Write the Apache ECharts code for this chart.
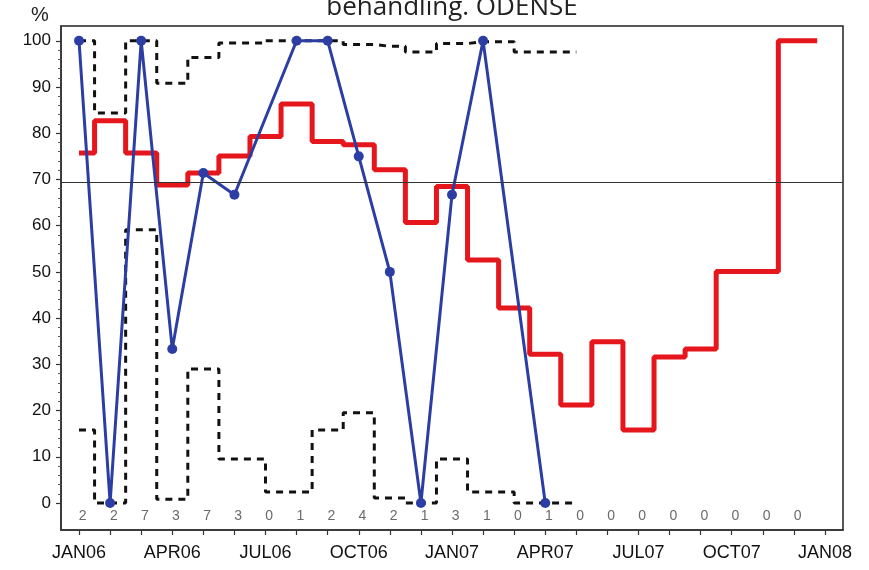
<!DOCTYPE html>
<html>
<head>
<meta charset="utf-8">
<script src="https://cdn.jsdelivr.net/npm/echarts/dist/echarts.min.js"></script>
<style>html,body{margin:0;background:#fff;}</style>
</head>
<body>
<div id="container" style="width:869px;height:570px;"></div>
<script type="text/javascript">
// months counted from JAN06 = 0
var quarterLabels = ['JAN06', 'APR06', 'JUL06', 'OCT06', 'JAN07', 'APR07', 'JUL07', 'OCT07', 'JAN08'];
var counts = [2, 2, 7, 3, 7, 3, 0, 1, 2, 4, 2, 1, 3, 1, 0, 1, 0, 0, 0, 0, 0, 0, 0, 0];
var observed = [100, 0, 100, 33.3, 71.4, 66.7, null, 100, 100, 75, 50, 0, 66.7, 100, null, 0];
var upper = [100, 84.4, 100, 90.8, 96.4, 99.5, null, 100, 100, 99.2, 98.8, 97.6, 99.4, 99.8, null, 97.6, 97.6];
var lower = [15.8, 0, 59.1, 0.8, 29, 9.5, null, 2.4, 15.8, 19.5, 1.1, 0, 9.5, 2.4, null, 0, 0];
var running = [75.7, 82.7, 75.7, 68.8, 71.4, 75.1, 79.3, 86.3, 78.2, 77.5, 72.1, 60.7,
	68.5, 52.6, 42.2, 32.2, 21.2, 34.9, 15.8, 31.6, 33.3, 50.1, 50.1, 100];
var runningEnd = 23.75;
var target = 69.3;

var dom = document.getElementById('container');
var chart = echarts.init(dom);

// frame geometry (px) and data ranges of the frame
var W = 869, H = 570;
var gl = 61, gr = 26, gt = 26, gb = 40;
var xMin = -0.58, xMax = 24.58, yMin = -5.84, yMax = 103.2;
var pw = W - gl - gr, ph = H - gt - gb;
var bl = gl + (0 - xMin) / (xMax - xMin) * pw;
var br = gr + (xMax - 24) / (xMax - xMin) * pw;
var bt = gt + (yMax - 100) / (yMax - yMin) * ph;
var bb = gb + (0 - yMin) / (yMax - yMin) * ph;

function pairs(arr) {
	return arr.map(function (v, i) { return [i, v]; }).filter(function (p) { return p[1] != null; });
}

var runData = pairs(running);
runData.push([runningEnd, running[running.length - 1]]);

var font = '"Liberation Sans", Arial, sans-serif';

option = {
	animation: false,
	backgroundColor: '#fff',
	graphic: [
		{ type: 'text', x: 452, y: 8, style: { text: 'behandling. ODENSE', font: '26px "Open Sans", sans-serif', fill: '#222', textAlign: 'center', textVerticalAlign: 'middle' } },
		{ type: 'text', x: 40, y: 15, style: { text: '%', font: '20px ' + font, fill: '#222', textAlign: 'center', textVerticalAlign: 'middle' } }
	],
	grid: [
		{ left: gl, right: gr, top: gt, bottom: gb, show: true, borderColor: '#222', borderWidth: 1.5 },
		{ left: bl, right: br, top: bt, bottom: bb, show: false }
	],
	xAxis: [
		{ type: 'value', gridIndex: 0, min: xMin, max: xMax,
			axisLine: { show: true, onZero: false, lineStyle: { color: '#333', width: 1.5 } },
			axisTick: { show: false }, axisLabel: { show: false }, splitLine: { show: false } },
		{ type: 'value', gridIndex: 1, min: 0, max: 24, interval: 1, offset: bb - gb,
			axisLine: { show: false, onZero: false }, splitLine: { show: false },
			axisTick: { show: true, length: 5, lineStyle: { color: '#333', width: 1.2 } },
			axisLabel: { color: '#111', fontSize: 18, fontFamily: font, margin: 14,
				formatter: function (v) { return v % 3 === 0 ? quarterLabels[v / 3] : ''; } } }
	],
	yAxis: [
		{ type: 'value', gridIndex: 0, min: yMin, max: yMax,
			axisLine: { show: true, onZero: false, lineStyle: { color: '#333', width: 1.5 } },
			axisTick: { show: false }, axisLabel: { show: false }, splitLine: { show: false } },
		{ type: 'value', gridIndex: 1, min: 0, max: 100, interval: 10, offset: bl - gl,
			axisLine: { show: false, onZero: false }, splitLine: { show: false },
			axisTick: { show: true, length: 5, lineStyle: { color: '#333', width: 1.2 } },
			minorTick: { show: true, splitNumber: 5, length: 3, lineStyle: { color: '#555' } },
			axisLabel: { color: '#111', fontSize: 17, fontFamily: font, margin: 10 } }
	],
	series: [
		{
			type: 'line', data: [], markLine: { silent: true, symbol: 'none', label: { show: false },
				lineStyle: { color: '#333', width: 1.2, type: 'solid' }, data: [{ yAxis: target }] }
		},
		{
			name: 'running', type: 'line', step: 'middle', data: runData, symbol: 'none',
			lineStyle: { color: '#e5161c', width: 5 }
		},
		{
			name: 'upper', type: 'line', step: 'middle', data: pairs(upper), symbol: 'none',
			lineStyle: { color: '#111', width: 3, type: [7, 6] }
		},
		{
			name: 'lower', type: 'line', step: 'middle', data: pairs(lower), symbol: 'none',
			lineStyle: { color: '#111', width: 3, type: [7, 6] }
		},
		{
			name: 'observed', type: 'line', data: pairs(observed), symbol: 'circle', symbolSize: 10,
			lineStyle: { color: '#2c3ea3', width: 3 }, itemStyle: { color: '#2c3ea3' }
		},
		{
			name: 'n', type: 'scatter', symbolSize: 0,
			data: counts.map(function (c, i) { return [i + 0.12, -2.8, c]; }),
			label: { show: true, position: 'inside', color: '#444', fontSize: 14, fontFamily: font,
				formatter: function (p) { return p.value[2]; } }
		}
	]
};

if (option && typeof option === 'object') {
	chart.setOption(option, true);
}
</script>
</body>
</html>
